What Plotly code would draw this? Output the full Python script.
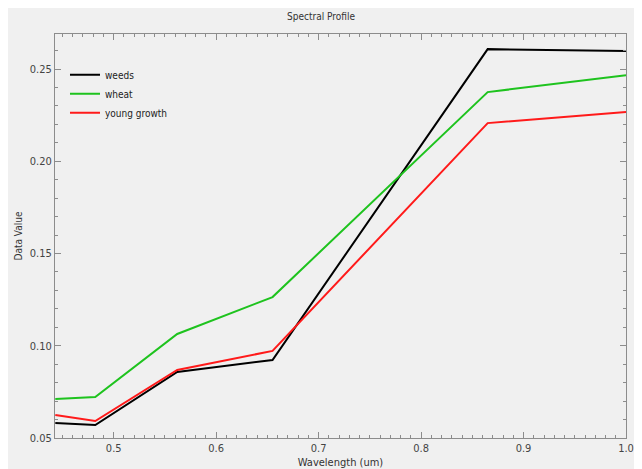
import plotly.graph_objects as go

wavelength = [0.443, 0.482, 0.562, 0.655, 0.865, 1.0]
weeds = [0.0581, 0.0570, 0.0858, 0.0923, 0.2608, 0.2598]
wheat = [0.0711, 0.0722, 0.1064, 0.1264, 0.2375, 0.2467]
young_growth = [0.0625, 0.0592, 0.0869, 0.0972, 0.2207, 0.2267]

series_names = ["weeds", "wheat", "young growth"]
series_values = [weeds, wheat, young_growth]
series_colors = ["#000000", "#1ec31e", "#ff1a1a"]

FONT = "Liberation Sans Narrow, Arial Narrow, DejaVu Sans Condensed, sans-serif"
GRAY = "#f0f0f0"

fig = go.Figure()
for name, vals, col in zip(series_names, series_values, series_colors):
    fig.add_trace(go.Scatter(x=wavelength, y=vals, mode="lines", name=name,
                             line=dict(color=col, width=2)))

axis_common = dict(
    showline=True, linecolor="#8c8c8c", linewidth=1, mirror="allticks",
    ticks="inside", ticklen=6, tickcolor="#8c8c8c", tickwidth=1,
    showgrid=False, zeroline=False, automargin=False,
    tickfont=dict(family=FONT, size=11, color="#444"),
)

fig.update_layout(
    width=626, height=461,
    margin=dict(l=47, r=8, t=26, b=31),
    paper_bgcolor=GRAY, plot_bgcolor=GRAY,
    title=dict(text="Spectral Profile", x=0.5, xanchor="center", y=0.981, yanchor="middle",
               font=dict(family=FONT, size=10, color="#333")),
    xaxis=dict(range=[0.4427, 1.0], tick0=0.5, dtick=0.1, tickformat=".1f",
               minor=dict(dtick=0.01, ticklen=3, ticks="inside", tickcolor="#8c8c8c"),
               title=dict(text="Wavelength (um)", standoff=4,
                          font=dict(family=FONT, size=11, color="#333")),
               **axis_common),
    yaxis=dict(range=[0.05, 0.269], tick0=0.05, dtick=0.05, tickformat=".2f",
               minor=dict(dtick=0.01, ticklen=3, ticks="inside", tickcolor="#8c8c8c"),
               title=dict(text="Data Value", standoff=5,
                          font=dict(family=FONT, size=10, color="#333")),
               **axis_common),
    legend=dict(x=0.0175, y=0.935, xanchor="left", yanchor="top", bgcolor="rgba(0,0,0,0)",
                font=dict(family=FONT, size=10, color="#222"), itemwidth=30,
                tracegroupgap=0),
)

fig.write_html("out.html")
